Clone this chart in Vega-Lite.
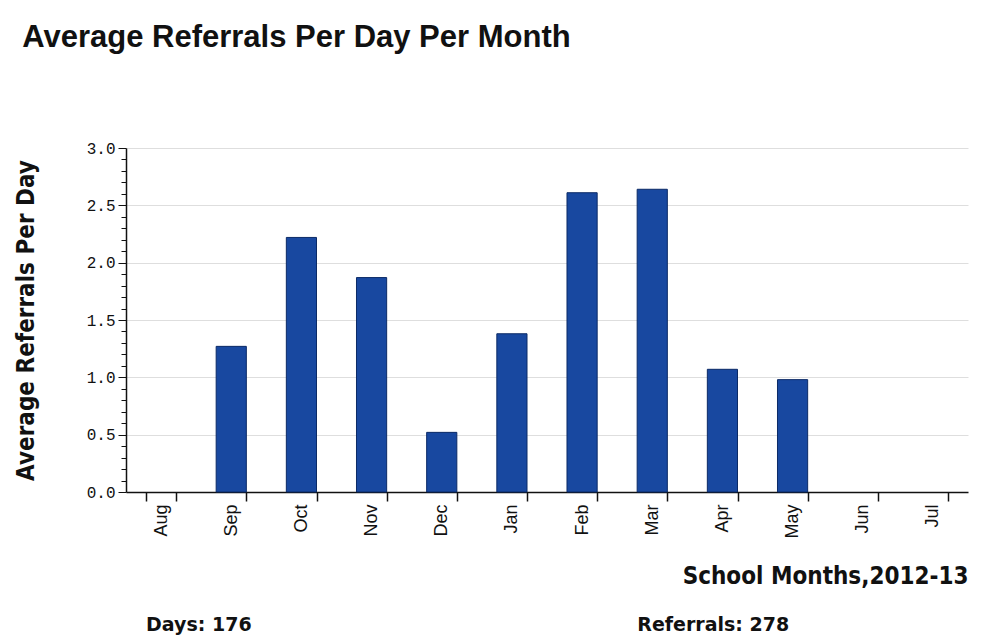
{
  "$schema": "https://vega.github.io/schema/vega-lite/v6.json",
  "background": "white",
  "padding": {"left": 14, "top": 22, "right": 21, "bottom": 4},
  "config": {"view": {"stroke": null}, "concat": {"spacing": 26}},
  "vconcat": [
    {
      "width": 842,
      "height": 344,
      "title": {
        "text": "Average Referrals Per Day Per Month",
        "anchor": "start",
        "frame": "bounds",
        "dx": 8,
        "font": "Liberation Sans",
        "fontSize": 31,
        "fontWeight": "bold",
        "color": "#111111",
        "offset": 86
      },
      "data": {
        "values": [
          {"month": "Aug", "avg": 0},
          {"month": "Sep", "avg": 1.27},
          {"month": "Oct", "avg": 2.22},
          {"month": "Nov", "avg": 1.87},
          {"month": "Dec", "avg": 0.52},
          {"month": "Jan", "avg": 1.38},
          {"month": "Feb", "avg": 2.61},
          {"month": "Mar", "avg": 2.64},
          {"month": "Apr", "avg": 1.07},
          {"month": "May", "avg": 0.98},
          {"month": "Jun", "avg": 0},
          {"month": "Jul", "avg": 0}
        ]
      },
      "transform": [{"filter": "datum.avg > 0"}],
      "mark": {"type": "bar", "fill": "#1848a0", "stroke": "#0b2a66", "strokeWidth": 1},
      "encoding": {
        "x": {
          "field": "month",
          "type": "nominal",
          "sort": null,
          "scale": {"domain": ["Aug","Sep","Oct","Nov","Dec","Jan","Feb","Mar","Apr","May","Jun","Jul"], "paddingInner": 0.57, "paddingOuter": 0.285},
          "axis": {
            "title": "School Months,2012-13",
            "titleAnchor": "end",
            "titleFont": "DejaVu Sans Condensed",
            "titleFontSize": 24,
            "titleFontWeight": "bold",
            "titleColor": "#111111",
            "titlePadding": 26,
            "labelAngle": -90,
            "labelAlign": "right",
            "labelBaseline": "middle",
            "labelFont": "Liberation Sans",
            "labelFontSize": 18,
            "labelColor": "#111111",
            "labelPadding": 3,
            "tickBand": "extent",
            "tickSize": 9,
            "tickColor": "#111111",
            "tickWidth": 1.5,
            "domainColor": "#111111",
            "domainWidth": 1.5,
            "grid": false
          }
        },
        "y": {
          "field": "avg",
          "type": "quantitative",
          "scale": {"domain": [0, 3], "nice": false},
          "axis": {
            "title": "Average Referrals Per Day",
            "titleFont": "DejaVu Sans Condensed",
            "titleFontSize": 24,
            "titleFontWeight": "bold",
            "titleColor": "#111111",
            "titlePadding": 48,
            "values": [0,0.1,0.2,0.3,0.4,0.5,0.6,0.7,0.8,0.9,1,1.1,1.2,1.3,1.4,1.5,1.6,1.7,1.8,1.9,2,2.1,2.2,2.3,2.4,2.5,2.6,2.7,2.8,2.9,3],
            "labelExpr": "round(datum.value*10) % 5 == 0 ? format(datum.value, '.1f') : ''",
            "labelFont": "Liberation Mono",
            "labelFontSize": 16,
            "labelColor": "#111111",
            "labelPadding": 3,
            "tickColor": "#111111",
            "tickSize": {"condition": {"test": "round(datum.value*10) % 5 == 0", "value": 8}, "value": 5},
            "domainColor": "#111111",
            "domainWidth": 1.5,
            "grid": true,
            "gridColor": "#dedede",
            "gridOpacity": {"condition": {"test": "round(datum.value*10) % 5 == 0 && datum.value > 0", "value": 1}, "value": 0}
          }
        }
      }
    },
    {
      "width": 842,
      "height": 20,
      "data": {
        "values": [
          {"month": "Aug", "label": "Days: 176"},
          {"month": "Mar", "label": "Referrals: 278"}
        ]
      },
      "mark": {"type": "text", "align": "left", "baseline": "middle", "dx": -15, "font": "DejaVu Sans", "fontSize": 19, "fontWeight": "bold", "color": "#111111"},
      "encoding": {
        "x": {
          "field": "month",
          "type": "nominal",
          "scale": {"domain": ["Aug","Sep","Oct","Nov","Dec","Jan","Feb","Mar","Apr","May","Jun","Jul"], "paddingInner": 0.57, "paddingOuter": 0.285},
          "axis": null
        },
        "text": {"field": "label"}
      }
    }
  ]
}
